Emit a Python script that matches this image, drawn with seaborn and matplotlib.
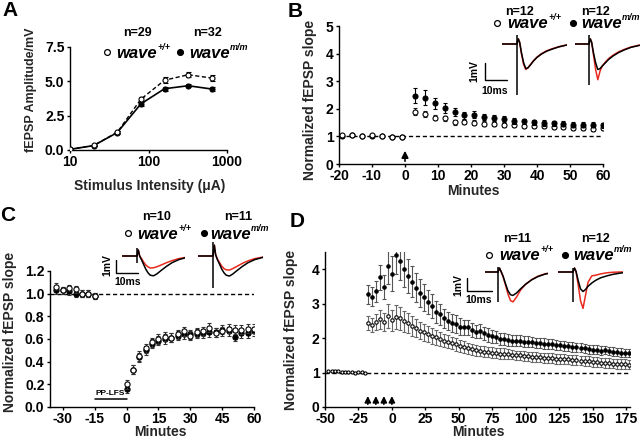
import matplotlib
matplotlib.use("Agg")
import matplotlib.pyplot as plt
import seaborn as sns
import numpy as np
from matplotlib.lines import Line2D

# ---------------- data ----------------
# Panel A: input-output curve
A_stim = [10, 20, 40, 80, 160, 320, 640]
A_wt = [0.05, 0.33, 1.29, 3.70, 5.08, 5.48, 5.24]
A_wt_err = [0.04, 0.06, 0.08, 0.14, 0.20, 0.20, 0.22]
A_mut = [0.05, 0.32, 1.27, 3.36, 4.46, 4.68, 4.44]
A_mut_err = [0.04, 0.06, 0.08, 0.12, 0.15, 0.12, 0.12]

# Panel B: LTP
B_base_t = [-19, -16, -13, -10, -7, -4, -1]
B_base_wt = [1.05, 1.06, 1.03, 1.04, 1.01, 0.98, 0.99]
B_base_mut = [1.03, 1.04, 1.02, 1.03, 1.00, 0.98, 0.97]
B_t = list(range(3, 61, 3))
B_wt = [1.90, 1.82, 1.68, 1.65, 1.52, 1.52, 1.50, 1.46, 1.44, 1.42,
        1.40, 1.36, 1.36, 1.36, 1.34, 1.34, 1.32, 1.32, 1.27, 1.30]
B_wt_err = [0.12, 0.10, 0.10, 0.10, 0.09, 0.08, 0.08, 0.08, 0.08, 0.07,
            0.07, 0.07, 0.07, 0.07, 0.07, 0.07, 0.07, 0.07, 0.07, 0.07]
B_mut = [2.48, 2.40, 2.20, 2.02, 1.88, 1.76, 1.78, 1.70, 1.67, 1.63,
         1.55, 1.54, 1.51, 1.48, 1.47, 1.45, 1.43, 1.43, 1.42, 1.40]
B_mut_err = [0.27, 0.27, 0.20, 0.18, 0.15, 0.13, 0.13, 0.12, 0.12, 0.12,
             0.10, 0.10, 0.10, 0.10, 0.10, 0.09, 0.09, 0.09, 0.09, 0.09]

# Panel C: LTD
C_base_t = [-33, -30, -27, -24, -21, -18, -15]
C_base_wt = [1.06, 1.03, 1.05, 1.04, 1.00, 1.00, 0.98]
C_base_mut = [1.03, 1.03, 1.02, 1.00, 1.00, 1.00, 0.98]
C_t = list(range(0, 61, 3))
C_wt = [0.20, 0.33, 0.45, 0.52, 0.57, 0.60, 0.62, 0.61, 0.64, 0.67, 0.63,
        0.66, 0.67, 0.70, 0.655, 0.67, 0.69, 0.68, 0.68, 0.69, 0.69]
C_mut = [0.16, 0.33, 0.44, 0.50, 0.56, 0.585, 0.60, 0.61, 0.63, 0.64, 0.64,
         0.645, 0.65, 0.66, 0.66, 0.68, 0.67, 0.62, 0.65, 0.65, 0.67]
C_err = 0.04

# Panel D: late LTP
D_base_t = [-47.5, -45, -42.5, -40, -37.5, -35, -32.5, -30, -27.5, -25, -22.5, -20]
D_base_wt = [1.05, 1.05, 1.04, 1.04, 1.03, 1.03, 1.02, 1.01, 1.00, 1.01, 1.02, 1.00]
D_t = list(range(-18, 178, 3))
D_mut = [3.27, 3.20, 3.36, 3.76, 3.49, 4.08, 3.87, 4.40, 4.25, 4.00, 3.80, 3.64, 3.46, 3.31,
         3.18, 3.05, 2.93, 2.76, 2.69, 2.57, 2.50, 2.43, 2.41, 2.33, 2.31, 2.31, 2.24, 2.19,
         2.21, 2.14, 2.09, 2.05, 2.03, 1.98, 1.97, 1.94, 1.93, 1.93, 1.92, 1.90, 1.90, 1.88,
         1.86, 1.85, 1.84, 1.82, 1.83, 1.80, 1.79, 1.78, 1.76, 1.74, 1.73, 1.72, 1.70, 1.68,
         1.66, 1.66, 1.64, 1.65, 1.62, 1.61, 1.59, 1.58, 1.57, 1.56]
D_mut_err = [0.28, 0.28, 0.30, 0.35, 0.35, 0.50, 0.50, 0.55, 0.55, 0.52, 0.50, 0.45, 0.42, 0.40,
             0.38, 0.36, 0.34, 0.32, 0.30, 0.28, 0.27, 0.26, 0.25, 0.24, 0.23, 0.22, 0.21, 0.20,
             0.20, 0.19, 0.19, 0.18, 0.18, 0.17, 0.17, 0.17, 0.16, 0.16, 0.16, 0.16, 0.15, 0.15,
             0.15, 0.15, 0.15, 0.15, 0.14, 0.14, 0.14, 0.14, 0.14, 0.14, 0.13, 0.13, 0.13, 0.13,
             0.13, 0.13, 0.13, 0.12, 0.12, 0.12, 0.12, 0.12, 0.12, 0.12]
D_wt = [2.43, 2.38, 2.47, 2.55, 2.47, 2.64, 2.52, 2.62, 2.57, 2.49, 2.44, 2.35, 2.29, 2.22,
        2.17, 2.12, 2.07, 2.02, 1.98, 1.93, 1.89, 1.85, 1.82, 1.78, 1.74, 1.71, 1.68, 1.65,
        1.63, 1.61, 1.60, 1.58, 1.57, 1.55, 1.55, 1.53, 1.52, 1.50, 1.50, 1.48, 1.47, 1.46,
        1.45, 1.44, 1.43, 1.42, 1.42, 1.40, 1.40, 1.39, 1.38, 1.37, 1.36, 1.35, 1.34, 1.33,
        1.31, 1.30, 1.29, 1.28, 1.27, 1.26, 1.25, 1.25, 1.24, 1.23]
D_wt_err = [0.20, 0.20, 0.22, 0.28, 0.25, 0.35, 0.30, 0.35, 0.33, 0.30, 0.30, 0.28, 0.27, 0.26,
            0.25, 0.24, 0.23, 0.22, 0.21, 0.20, 0.19, 0.18, 0.18, 0.17, 0.17, 0.16, 0.16, 0.16,
            0.15, 0.15, 0.15, 0.15, 0.15, 0.15, 0.15, 0.14, 0.14, 0.14, 0.14, 0.14, 0.14, 0.14,
            0.14, 0.14, 0.14, 0.14, 0.14, 0.14, 0.14, 0.14, 0.14, 0.14, 0.14, 0.14, 0.14, 0.14,
            0.14, 0.14, 0.14, 0.14, 0.14, 0.14, 0.14, 0.14, 0.14, 0.14]
D_arrows = [-18, -12, -6, 0]

# example fEPSP traces (ms, mV)
TR_T = [-7, 0, 0.6, 1.2, 2, 3, 4, 5, 6, 7.5, 9, 11, 13.5, 16, 19, 23]
TR_B_wt_k = [0, 0, 0.3, 0.1, -0.5, -1.1, -1.45, -1.4, -1.25, -1.0, -0.8, -0.6, -0.42, -0.3, -0.17, -0.05]
TR_B_wt_r = [0, 0, 0.3, 0.1, -0.55, -1.2, -1.5, -1.4, -1.22, -0.98, -0.78, -0.58, -0.4, -0.28, -0.16, -0.04]
TR_B_mu_k = [0, 0, 0.3, 0.1, -0.5, -1.1, -1.5, -1.45, -1.3, -1.1, -0.9, -0.7, -0.5, -0.35, -0.2, -0.08]
TR_B_mu_r = [0, 0, 0.3, 0.1, -0.6, -1.5, -2.1, -1.6, -1.3, -1.05, -0.85, -0.65, -0.46, -0.32, -0.18, -0.06]
TR_C_wt_k = [0, 0, 0.5, 0, -0.3, -0.7, -1.1, -1.4, -1.6, -1.65, -1.5, -1.2, -0.85, -0.55, -0.3, -0.1]
TR_C_wt_r = [0, 0, 0.5, 0, -0.2, -0.5, -0.75, -0.9, -1.0, -0.98, -0.9, -0.75, -0.55, -0.38, -0.22, -0.08]
TR_C_mu_k = [0, 0, 0.9, 0.1, -0.3, -0.7, -1.1, -1.4, -1.6, -1.67, -1.5, -1.2, -0.85, -0.55, -0.3, -0.1]
TR_C_mu_r = [0, 0, 0.9, 0.1, -0.25, -0.55, -0.85, -1.05, -1.15, -1.17, -1.05, -0.85, -0.6, -0.4, -0.22, -0.08]
TR_D_wt_k = [0, 0, 0.3, 0.05, -0.3, -0.9, -1.45, -1.75, -1.8, -1.6, -1.3, -0.95, -0.6, -0.35, -0.15, -0.03]
TR_D_wt_r = [0, 0, 0.3, 0.05, -0.35, -1.0, -1.7, -2.2, -2.3, -1.9, -1.4, -0.95, -0.58, -0.32, -0.13, -0.02]
TR_D_mu_k = [0, 0, 0.3, 0.05, -0.6, -1.3, -1.5, -1.35, -1.1, -0.85, -0.65, -0.45, -0.3, -0.18, -0.08, -0.02]
TR_D_mu_r = [0, 0, 0.3, 0.05, -0.9, -2.2, -2.8, -1.8, -0.8, -0.3, -0.25, -0.15, -0.06, -0.02, 0, 0]

# ---------------- style ----------------
sns.set_theme(style="ticks")
plt.rcParams["font.family"] = ["Liberation Sans", "DejaVu Sans"]
plt.rcParams.update({
    "font.weight": "bold", "axes.labelweight": "bold", "axes.unicode_minus": False,
    "axes.linewidth": 1.0, "xtick.major.width": 1.0, "ytick.major.width": 1.0,
    "xtick.major.size": 2.5, "ytick.major.size": 2.5, "xtick.labelsize": 10,
    "ytick.labelsize": 10, "axes.labelsize": 10, "xtick.color": "black",
    "ytick.color": "black", "axes.edgecolor": "black", "text.color": "black",
    "xtick.major.pad": 1.2, "ytick.major.pad": 1.5,
})

W, H = 640, 441
fig = plt.figure(figsize=(W / 100, H / 100), dpi=100)
fig.patch.set_facecolor("white")


def box(l, t, r, b):
    return [l / W, 1 - b / H, (r - l) / W, (b - t) / H]


def fxy(x, y):
    return (x / W, 1 - y / H)


def style_ax(ax):
    sns.despine(ax=ax)
    ax.tick_params(labelsize=10)
    for lab in ax.get_xticklabels() + ax.get_yticklabels():
        lab.set_fontweight("bold")


def pts(ax, x, y, err, filled, s, ecolor, capsize=1.5, z=3):
    ax.errorbar(x, y, yerr=err, fmt="none", ecolor=ecolor, elinewidth=0.8,
                capsize=capsize, capthick=0.8, zorder=z)
    sns.scatterplot(x=x, y=y, ax=ax, s=s, color=("black" if filled else "white"),
                    edgecolor="black", linewidth=0.8, zorder=z + 1, legend=False)


def set_labels(ax, xlabel, xlab_xy, ylabel, ylab_xy):
    ax.set_xlabel(xlabel)
    ax.set_ylabel(ylabel)
    ax.xaxis.set_label_coords(*fxy(*xlab_xy), transform=fig.transFigure)
    ax.yaxis.set_label_coords(*fxy(*ylab_xy), transform=fig.transFigure)


def legend(ax, items):
    # items: (n_text, n_center_xy, marker_xy, filled, wave_left_x, sup)
    for ntext, nxy, mxy, filled, wx, sup in items:
        fig.text(*fxy(*nxy), ntext, ha="center", va="center", fontsize=9, fontweight="bold")
        fig.add_artist(Line2D([mxy[0] / W], [1 - mxy[1] / H], marker="o", markersize=4.2,
                              markerfacecolor=("black" if filled else "white"),
                              markeredgecolor="black", markeredgewidth=0.9,
                              transform=fig.transFigure, linestyle="none"))
        t = fig.text(*fxy(wx, mxy[1] + 1), "wave", ha="left", va="center", fontsize=12,
                     fontweight="bold", style="italic")
        ax.annotate(sup, xy=(1.0, 0.6), xycoords=t, xytext=(0.3, 0), textcoords="offset points",
                    ha="left", va="bottom", fontsize=6.5, fontweight="bold", style="italic",
                    annotation_clip=False)


def trace(start, art, end, base, pxms, pxmv, art_up, art_dn, black, red):
    ax = fig.add_axes(box(start, base - 18, end, base + 62))
    ax.set_xlim((start - art) / pxms, (end - art) / pxms)
    ax.set_ylim(-62 / pxmv, 18 / pxmv)
    ax.axis("off")
    sns.lineplot(x=TR_T, y=red, ax=ax, color="#e8291c", lw=1.1, errorbar=None, sort=False)
    sns.lineplot(x=TR_T, y=black, ax=ax, color="black", lw=1.1, errorbar=None, sort=False)
    ax.vlines(0, art_dn, art_up, color="black", lw=1.1)


def scalebar(x, y_top, y_bot, x_right, mv_xy, ms_xy):
    fig.add_artist(Line2D([x / W, x / W, x_right / W],
                          [1 - y_top / H, 1 - y_bot / H, 1 - y_bot / H],
                          color="black", lw=1.0, transform=fig.transFigure))
    fig.text(*fxy(*mv_xy), "1mV", rotation=90, ha="center", va="center", fontsize=7.5,
             fontweight="bold")
    fig.text(*fxy(*ms_xy), "10ms", ha="center", va="center", fontsize=7.5, fontweight="bold")


# ---------------- Panel A ----------------
axA = fig.add_axes(box(70, 47, 227, 150))
axA.errorbar(A_stim, A_wt, yerr=A_wt_err, fmt="none", ecolor="black", elinewidth=0.8,
             capsize=1.8, capthick=0.8, zorder=2)
axA.errorbar(A_stim, A_mut, yerr=A_mut_err, fmt="none", ecolor="black", elinewidth=0.8,
             capsize=1.8, capthick=0.8, zorder=2)
sns.lineplot(x=A_stim, y=A_mut, ax=axA, color="black", lw=1.2, errorbar=None, zorder=2)
sns.lineplot(x=A_stim, y=A_wt, ax=axA, color="black", lw=1.0, errorbar=None, zorder=2,
             linestyle=(0, (3, 1.8)))
sns.scatterplot(x=A_stim, y=A_mut, ax=axA, s=13, color="black", edgecolor="black",
                linewidth=0.8, zorder=4, legend=False)
sns.scatterplot(x=A_stim, y=A_wt, ax=axA, s=13, color="white", edgecolor="black",
                linewidth=0.8, zorder=5, legend=False)
axA.set_xscale("log")
axA.set_xlim(10, 1000)
axA.set_ylim(0, 7.5)
axA.set_xticks([10, 100, 1000])
axA.set_xticklabels(["10", "100", "1000"])
axA.xaxis.set_minor_locator(matplotlib.ticker.NullLocator())
axA.set_yticks([0, 2.5, 5.0, 7.5])
axA.set_yticklabels(["0.0", "2.5", "5.0", "7.5"])
set_labels(axA, "Stimulus Intensity (\u03bcA)", (150, 179), "fEPSP Amplitude/mV", (37, 90))
axA.xaxis.label.set_fontsize(10)
axA.yaxis.label.set_fontsize(9)
style_ax(axA)
legend(axA, [("n=29", (137, 33), (107, 52), False, 116, "+/+"),
             ("n=32", (207, 33), (180, 52), True, 189, "m/m")])

# ---------------- Panel B ----------------
axB = fig.add_axes(box(339, 26, 603, 164))
axB.axhline(1, color="black", lw=1.0, ls=(0, (3, 2)), zorder=1)
pts(axB, B_base_t, B_base_mut, 0.03, True, 13, "black")
pts(axB, B_base_t, B_base_wt, 0.03, False, 13, "black", z=5)
pts(axB, B_t, B_wt, B_wt_err, False, 13, "#222222")
pts(axB, B_t, B_mut, B_mut_err, True, 13, "black", z=5)
axB.annotate("", xy=(0, 0.58), xytext=(0, 0.0),
             arrowprops=dict(arrowstyle="-|>", color="black", lw=1.2, mutation_scale=10))
axB.set_xlim(-20, 60)
axB.set_ylim(0, 5)
axB.set_xticks(range(-20, 61, 10))
axB.set_yticks(range(0, 6))
set_labels(axB, "Minutes", (473, 184), "Normalized fEPSP slope", (317, 100))
style_ax(axB)
legend(axB, [("n=12", (520, 12), (497, 23), False, 507, "+/+"),
             ("n=12", (596, 12), (573, 23), True, 581, "m/m")])
trace(502, 517, 567, 44, 2.2, 17, 0.53, -3.0, TR_B_wt_k, TR_B_wt_r)
trace(575, 589, 640, 44, 2.2, 17, 0.53, -2.4, TR_B_mu_k, TR_B_mu_r)
scalebar(485, 63, 80, 507, (474, 71), (495, 91))

# ---------------- Panel C ----------------
axC = fig.add_axes(box(50, 271, 254, 407))
axC.axhline(1, color="black", lw=1.0, ls=(0, (3, 2)), zorder=1)
pts(axC, C_base_t, C_base_mut, 0.03, True, 14, "#333333")
pts(axC, C_base_t, C_base_wt, 0.03, False, 14, "#333333", z=5)
pts(axC, C_t, C_mut, C_err, True, 14, "#333333")
pts(axC, C_t, C_wt, C_err, False, 14, "#333333", z=5)
axC.plot([-15, 0], [0.07, 0.07], color="black", lw=1.1)
axC.text(-7.5, 0.09, "PP-LFS", ha="center", va="bottom", fontsize=6, fontweight="bold")
axC.set_xlim(-36, 60)
axC.set_ylim(0, 1.2)
axC.set_xticks(range(-30, 61, 15))
axC.set_yticks(np.arange(0, 1.21, 0.2))
axC.set_yticklabels([f"{v:.1f}" for v in np.arange(0, 1.21, 0.2)])
set_labels(axC, "Minutes", (160, 425), "Normalized fEPSP slope", (17, 332))
style_ax(axC)
legend(axC, [("n=10", (157, 217), (128, 233), False, 137, "+/+"),
             ("n=11", (238, 217), (204, 233), True, 210, "m/m")])
trace(122, 137, 185, 256, 2.2, 12, 0.67, -0.6, TR_C_wt_k, TR_C_wt_r)
trace(198, 213, 263, 256, 2.2, 12, 1.2, -2.7, TR_C_mu_k, TR_C_mu_r)
scalebar(116, 260, 273, 138, (107, 265), (128, 282))

# ---------------- Panel D ----------------
axD = fig.add_axes(box(325, 252, 630, 407))
axD.axhline(1, color="black", lw=1.0, ls=(0, (3, 2)), zorder=1)
pts(axD, D_base_t, D_base_wt, 0.02, False, 5, "#666666", capsize=0.8, z=5)
pts(axD, D_t, D_wt, D_wt_err, False, 6, "#666666", capsize=1.3)
pts(axD, D_t, D_mut, D_mut_err, True, 6, "#555555", capsize=1.3, z=5)
for a in D_arrows:
    axD.annotate("", xy=(a, 0.4), xytext=(a, 0.0),
                 arrowprops=dict(arrowstyle="-|>", color="black", lw=1.2, mutation_scale=9))
axD.set_xlim(-50, 178)
axD.set_ylim(0, 4.5)
axD.set_xticks(range(-50, 176, 25))
axD.set_yticks(range(0, 5))
set_labels(axD, "Minutes", (478, 425), "Normalized fEPSP slope", (298, 330))
style_ax(axD)
legend(axD, [("n=11", (517, 239), (489, 255), False, 499, "+/+"),
             ("n=12", (595, 239), (565, 255), True, 573, "m/m")])
trace(485, 498, 548, 272, 2.5, 13, 0.4, -2.3, TR_D_wt_k, TR_D_wt_r)
trace(558, 573, 623, 272, 2.5, 13, 0.3, -2.3, TR_D_mu_k, TR_D_mu_r)
scalebar(467, 278, 291, 492, (458, 285), (479, 300))

# ---------------- panel letters ----------------
for letter, (x, y) in {"A": (2, 1), "B": (288, 2), "C": (0, 206), "D": (290, 212)}.items():
    fig.text(*fxy(x, y), letter, ha="left", va="top", fontsize=15, fontweight="bold")

fig.savefig("out.png", dpi=100)
